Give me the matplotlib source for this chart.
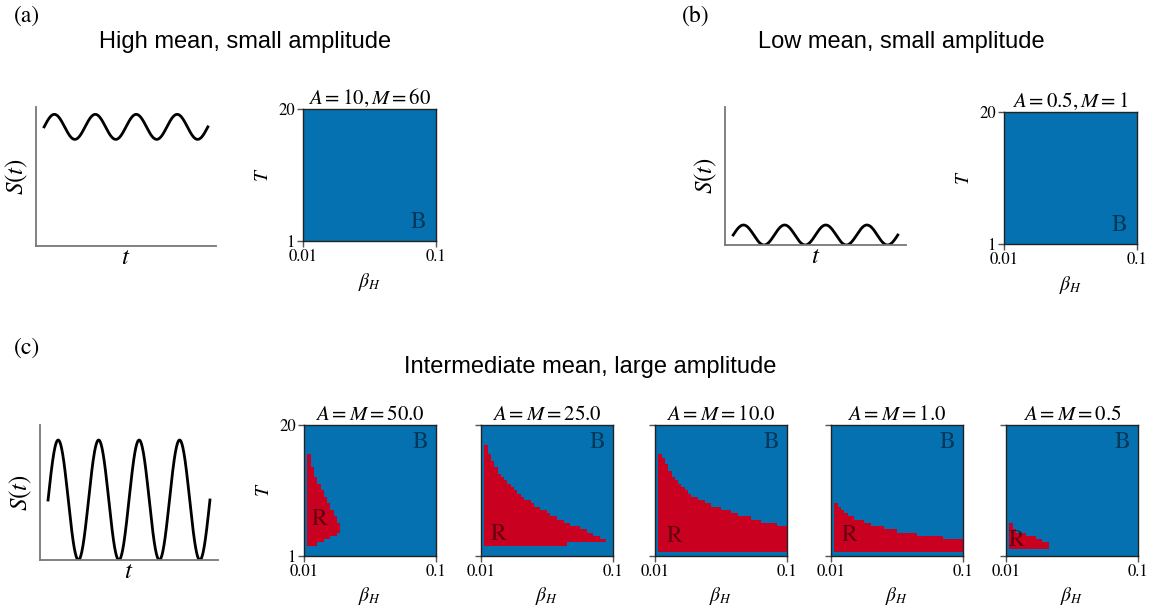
import numpy as np
import matplotlib
matplotlib.use("Agg")
import matplotlib.pyplot as plt
from matplotlib.colors import ListedColormap

plt.rcParams['mathtext.fontset'] = 'stix'
plt.rcParams['font.family'] = ['STIXGeneral', 'DejaVu Serif']

# ---------------- data ----------------
beta_range = [0.01, 0.1]
T_range = [1, 20]
n_beta = 40
n_T = 40
beta_ticklabels = ['0.01', '0.1']
T_ticklabels = ['1', '20']

panel_letters = ['(a)', '(b)', '(c)']
group_titles = ['High mean, small amplitude', 'Low mean, small amplitude',
                'Intermediate mean, large amplitude']

# schematic waveforms S(t) = mean + amp*sin(t), four periods
wave_means = [60, 1.0, 1.0]
wave_amps = [6.3, 1.0, 1.0]
wave_ymax = [70, 13.8, 2.25]

top_titles = [r'$A=10,M=60$', r'$A=0.5,M=1$']
c_titles = [r'$A=M=50.0$', r'$A=M=25.0$', r'$A=M=10.0$', r'$A=M=1.0$', r'$A=M=0.5$']

# red (R) region per beta column (starting at column 1): lowest and top (exclusive) T-row index
red_top_50 = [31, 27, 24, 22, 20, 18, 16, 14, 12, 10]
red_bot_50 = [3, 3, 3, 4, 4, 5, 5, 6, 6, 7]
red_top_25 = [34, 31, 29, 27, 25, 24, 23, 22, 21, 20, 19, 18, 17, 17, 16, 15, 15, 14, 14,
              13, 12, 12, 11, 11, 10, 10, 9, 9, 9, 8, 8, 7, 7, 6, 6, 5, 5]
red_bot_25 = [3, 3, 3, 3, 3, 3, 3, 3, 3, 3, 3, 3, 3, 3, 3, 3, 3, 3, 3, 3, 3, 3, 3, 3, 3,
              4, 4, 4, 4, 4, 4, 4, 4, 4, 4, 4, 4]
red_top_10 = [31, 30, 28, 26, 24, 23, 22, 21, 20, 19, 18, 18, 17, 17, 16, 16, 15, 15, 15,
              14, 14, 14, 13, 13, 12, 12, 12, 12, 11, 11, 11, 10, 10, 10, 10, 10, 9, 9, 9]
red_bot_10 = [1] * 39
red_top_1 = [16, 15, 14, 13, 12, 12, 11, 11, 11, 10, 10, 9, 9, 9, 9, 8, 8, 8, 8,
             7, 7, 7, 7, 7, 7, 6, 6, 6, 6, 6, 6, 6, 6, 5, 5, 5, 5, 5, 5]
red_bot_1 = [1] * 39
red_top_05 = [10, 8, 7, 7, 7, 6, 6, 6, 5, 5, 4, 4]
red_bot_05 = [2] * 12

c_red = [(red_bot_50, red_top_50), (red_bot_25, red_top_25), (red_bot_10, red_top_10),
         (red_bot_1, red_top_1), (red_bot_05, red_top_05)]

# label positions (axes fraction)
c_R_pos = [(0.12, 0.28), (0.134, 0.16), (0.148, 0.145), (0.137, 0.157), (0.08, 0.12)]

BLUE = '#0571b0'
RED = '#ca0020'
cmap = ListedColormap([BLUE, RED])

# ---------------- figure ----------------
W, H = 1162, 610
fig = plt.figure(figsize=(W / 100, H / 100), dpi=100)


def ax_px(x0, y0, x1, y1):
    return fig.add_axes([x0 / W, 1 - y1 / H, (x1 - x0) / W, (y1 - y0) / H])


def draw_wave(ax, i):
    t = np.linspace(0, 8 * np.pi, 600)
    s = wave_means[i] + wave_amps[i] * np.sin(t)
    ax.plot(t, s, color='black', lw=2)
    pad = 1.25
    ax.set_xlim(-pad, 8 * np.pi + pad)
    ax.set_ylim(0, wave_ymax[i])
    for sp in ['top', 'right']:
        ax.spines[sp].set_visible(False)
    for sp in ['left', 'bottom']:
        ax.spines[sp].set_color('#777777')
        ax.spines[sp].set_linewidth(1.3)
    ax.set_xticks([])
    ax.set_yticks([])
    ax.set_ylabel(r'$S(t)$', fontsize=18, labelpad=4)
    ax.set_xlabel(r'$t$', fontsize=18, labelpad=0)


def draw_heat(ax, bot, top, title, ylabels=True, ylab=True):
    mask = np.zeros((n_T, n_beta))
    for j, (lo, hi) in enumerate(zip(bot, top), start=1):
        mask[lo:hi, j] = 1
    bx = np.linspace(beta_range[0], beta_range[1], n_beta + 1)
    ty = np.linspace(T_range[0], T_range[1], n_T + 1)
    ax.pcolormesh(bx, ty, mask, cmap=cmap, vmin=0, vmax=1, shading='flat')
    ax.set_xlim(beta_range)
    ax.set_ylim(T_range)
    ax.set_xticks(beta_range)
    ax.set_xticklabels(beta_ticklabels)
    ax.set_yticks(T_range)
    if ylabels:
        ax.set_yticklabels(T_ticklabels)
    else:
        ax.set_yticklabels([])
    ax.tick_params(labelsize=12, length=4, width=1, color='#555555', pad=2)
    for sp in ax.spines.values():
        sp.set_linewidth(1.0)
        sp.set_color('#222222')
    ax.set_title(title, fontsize=15, pad=3)
    ax.set_xlabel(r'$\beta_H$', fontsize=14, labelpad=4)
    if ylab:
        ax.set_ylabel(r'$T$', fontsize=14, labelpad=4)


lbl_kw = dict(fontsize=17, color='black', alpha=0.5, ha='center', va='center')

# (a)
ax = ax_px(36, 107, 216, 246)
draw_wave(ax, 0)
ax = ax_px(303, 109, 436, 241)
draw_heat(ax, [], [], top_titles[0])
ax.text(0.87, 0.14, 'B', transform=ax.transAxes, **lbl_kw)

# (b)
ax = ax_px(725, 107, 906, 245)
draw_wave(ax, 1)
ax = ax_px(1004, 112, 1137, 244)
draw_heat(ax, [], [], top_titles[1])
ax.text(0.87, 0.14, 'B', transform=ax.transAxes, **lbl_kw)

# (c)
ax = ax_px(40, 425, 218, 560)
draw_wave(ax, 2)
c_x0 = [304, 481, 655, 831, 1006]
for k, (x0, (bot, top)) in enumerate(zip(c_x0, c_red)):
    ax = ax_px(x0, 425, x0 + 132, 555.5)
    draw_heat(ax, bot, top, c_titles[k], ylabels=(k == 0), ylab=(k == 0))
    ax.text(0.88, 0.87, 'B', transform=ax.transAxes, **lbl_kw)
    ax.text(c_R_pos[k][0], c_R_pos[k][1], 'R', transform=ax.transAxes, **lbl_kw)

# panel letters and group titles
letter_pos = [(27, 16), (696, 16), (27, 348)]
title_pos = [(245, 42), (901, 42), (590, 367)]
for (lx, ly), let in zip(letter_pos, panel_letters):
    fig.text(lx / W, 1 - ly / H, let, fontsize=17, ha='center', va='center')
for (tx, ty), tt in zip(title_pos, group_titles):
    fig.text(tx / W, 1 - ty / H, tt, fontsize=17, ha='center', va='center',
             family='Liberation Sans')

fig.savefig('out.png', dpi=100)
